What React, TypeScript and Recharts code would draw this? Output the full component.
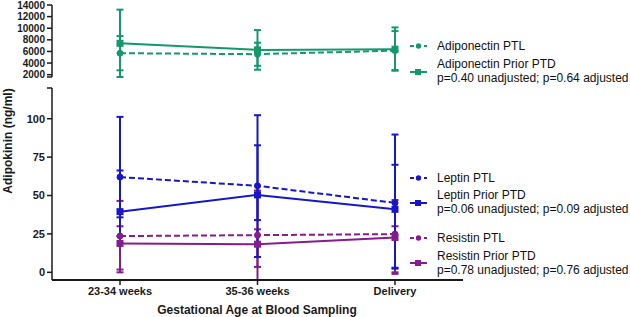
import React from 'react';
import { LineChart, Line, XAxis, YAxis, ErrorBar } from 'recharts';

const categories = ['23-34 weeks', '35-36 weeks', 'Delivery'];

const adipoPtl = [5700, 5530, 6150];
const adipoPtlLow = [2750, 3530, 2800];
const adipoPtlHigh = [8650, 7510, 9510];
const adipoPrior = [7400, 6270, 6390];
const adipoPriorLow = [1600, 2850, 2680];
const adipoPriorHigh = [13200, 9680, 10140];

const leptinPtl = [62.0, 56.3, 45.2];
const leptinPtlLow = [35.8, 34.0, 3.0];
const leptinPtlHigh = [66.3, 82.7, 70.0];
const leptinPrior = [39.5, 50.4, 41.0];
const leptinPriorLow = [23.5, 10.0, 2.4];
const leptinPriorHigh = [101.2, 102.3, 89.7];

const resistinPtl = [23.6, 24.2, 24.9];
const resistinPtlLow = [1.8, 3.5, 0];
const resistinPtlHigh = [46.5, 53.2, 47.1];
const resistinPrior = [18.8, 18.3, 22.7];
const resistinPriorLow = [0, -5, -1];
const resistinPriorHigh = [30, 28, 30];

const adipoTicks = [1600, 2000, 4000, 6000, 8000, 10000, 12000, 14000];
const lowerTicks = [0, 25, 50, 75, 100, 120];

const GREEN = '#13996B';
const BLUE = '#1717C9';
const PURPLE = '#861C8E';
const AXIS = '#1a1a1a';
const FONT = '"Liberation Sans", Arial, sans-serif';

const err = (m: number[], lo: number[], hi: number[], i: number) => [m[i] - lo[i], hi[i] - m[i]];

const adipoData = categories.map((c, i) => ({
  cat: c,
  ptl: adipoPtl[i],
  ptlErr: err(adipoPtl, adipoPtlLow, adipoPtlHigh, i),
  prior: adipoPrior[i],
  priorErr: err(adipoPrior, adipoPriorLow, adipoPriorHigh, i),
}));

const lowerData = categories.map((c, i) => ({
  cat: c,
  lepPtl: leptinPtl[i],
  lepPtlErr: err(leptinPtl, leptinPtlLow, leptinPtlHigh, i),
  lepPrior: leptinPrior[i],
  lepPriorErr: err(leptinPrior, leptinPriorLow, leptinPriorHigh, i),
  resPtl: resistinPtl[i],
  resPtlErr: err(resistinPtl, resistinPtlLow, resistinPtlHigh, i),
  resPrior: resistinPrior[i],
  resPriorErr: err(resistinPrior, resistinPriorLow, resistinPriorHigh, i),
}));

const squareDot = (color: string) => (props: any) => {
  const { cx, cy, index } = props;
  if (cx == null || cy == null) return <g key={`e-${index}`} />;
  return <rect key={`sq-${index}`} x={cx - 3.5} y={cy - 3.5} width={7} height={7} fill={color} />;
};

const circleDot = (color: string) => ({ r: 3, fill: color, stroke: color, strokeWidth: 1, strokeDasharray: '' });

const tickStyleTop = { fontSize: 10, fontWeight: 700, fill: AXIS, fontFamily: FONT };
const tickStyle = { fontSize: 11, fontWeight: 700, fill: AXIS, fontFamily: FONT };

const hideFmt = (hidden: number) => (v: number) => (v === hidden ? '' : String(v));

function LegendEntry({ y, color, dashed, square, lines, textY }: any) {
  return (
    <g>
      <line x1={410} x2={427} y1={y} y2={y} stroke={color} strokeWidth={2} strokeDasharray={dashed ? '4 3' : undefined} />
      {square ? (
        <rect x={415} y={y - 3} width={6} height={6} fill={color} />
      ) : (
        <circle cx={418.5} cy={y} r={2.7} fill={color} />
      )}
      {lines.map((t: string, k: number) => (
        <text key={k} x={437} y={textY[k] + 4.3} fontSize={12} fontFamily={FONT} fill="#111">
          {t}
        </text>
      ))}
    </g>
  );
}

export default function App() {
  return (
    <div style={{ position: 'absolute', left: 0, top: 0, width: 630, height: 317, background: '#fff', fontFamily: FONT }}>
      <div style={{ position: 'absolute', left: 0, top: 0 }}>
        <LineChart width={630} height={82} data={adipoData} margin={{ top: 5, right: 167, bottom: 5, left: 0 }}>
          <XAxis dataKey="cat" hide padding={{ left: 68, right: 68 }} />
          <YAxis
            width={52}
            domain={[1600, 14000]}
            ticks={adipoTicks}
            allowDataOverflow
            tick={tickStyleTop}
            tickFormatter={hideFmt(1600)}
            tickSize={5}
            axisLine={{ stroke: AXIS, strokeWidth: 1.5 }}
            tickLine={{ stroke: AXIS, strokeWidth: 1.5 }}
            interval={0}
          />
          <Line
            dataKey="ptl"
            stroke={GREEN}
            strokeWidth={2}
            strokeDasharray="6 3"
            dot={circleDot(GREEN)}
            isAnimationActive={false}
          >
            <ErrorBar dataKey="ptlErr" width={3.5} stroke={GREEN} strokeWidth={2} direction="y" />
          </Line>
          <Line
            dataKey="prior"
            stroke={GREEN}
            strokeWidth={2}
            dot={squareDot(GREEN)}
            isAnimationActive={false}
          >
            <ErrorBar dataKey="priorErr" width={3.5} stroke={GREEN} strokeWidth={2} direction="y" />
          </Line>
        </LineChart>
      </div>
      <div style={{ position: 'absolute', left: 0, top: 80 }}>
        <LineChart width={630} height={237} data={lowerData} margin={{ top: 8, right: 167, bottom: 7, left: 0 }}>
          <XAxis
            dataKey="cat"
            padding={{ left: 68, right: 68 }}
            height={30}
            tick={tickStyle}
            tickSize={5}
            axisLine={{ stroke: AXIS, strokeWidth: 2 }}
            tickLine={{ stroke: AXIS, strokeWidth: 1.5 }}
            interval={0}
          />
          <YAxis
            width={52}
            domain={[-5, 120]}
            ticks={lowerTicks}
            allowDataOverflow
            tick={tickStyle}
            tickFormatter={hideFmt(120)}
            tickSize={5}
            axisLine={{ stroke: AXIS, strokeWidth: 1.5 }}
            tickLine={{ stroke: AXIS, strokeWidth: 1.5 }}
            interval={0}
          />
          <Line dataKey="resPrior" stroke={PURPLE} strokeWidth={2} dot={squareDot(PURPLE)} isAnimationActive={false}>
            <ErrorBar dataKey="resPriorErr" width={3.5} stroke={PURPLE} strokeWidth={2} direction="y" />
          </Line>
          <Line
            dataKey="resPtl"
            stroke={PURPLE}
            strokeWidth={2}
            strokeDasharray="6 3"
            dot={circleDot(PURPLE)}
            isAnimationActive={false}
          >
            <ErrorBar dataKey="resPtlErr" width={3.5} stroke={PURPLE} strokeWidth={2} direction="y" />
          </Line>
          <Line dataKey="lepPrior" stroke={BLUE} strokeWidth={2} dot={squareDot(BLUE)} isAnimationActive={false}>
            <ErrorBar dataKey="lepPriorErr" width={3.5} stroke={BLUE} strokeWidth={2} direction="y" />
          </Line>
          <Line
            dataKey="lepPtl"
            stroke={BLUE}
            strokeWidth={2}
            strokeDasharray="6 3"
            dot={circleDot(BLUE)}
            isAnimationActive={false}
          >
            <ErrorBar dataKey="lepPtlErr" width={3.5} stroke={BLUE} strokeWidth={2} direction="y" />
          </Line>
        </LineChart>
      </div>
      <svg width={630} height={317} style={{ position: 'absolute', left: 0, top: 0, pointerEvents: 'none' }}>
        <text
          x={0}
          y={0}
          transform="translate(12,141) rotate(-90)"
          textAnchor="middle"
          fontSize={12}
          fontWeight={700}
          fontFamily={FONT}
          fill={AXIS}
        >
          Adipokinin (ng/ml)
        </text>
        <text x={257} y={314} textAnchor="middle" fontSize={12} fontWeight={700} fontFamily={FONT} fill={AXIS}>
          Gestational Age at Blood Sampling
        </text>
        <LegendEntry y={46} color={GREEN} dashed lines={['Adiponectin PTL']} textY={[46]} />
        <LegendEntry
          y={72}
          color={GREEN}
          square
          lines={['Adiponectin Prior PTD', 'p=0.40 unadjusted; p=0.64 adjusted']}
          textY={[64, 78]}
        />
        <LegendEntry y={178} color={BLUE} dashed lines={['Leptin PTL']} textY={[178]} />
        <LegendEntry
          y={203}
          color={BLUE}
          square
          lines={['Leptin Prior PTD', 'p=0.06 unadjusted; p=0.09 adjusted']}
          textY={[195, 209]}
        />
        <LegendEntry y={238} color={PURPLE} dashed lines={['Resistin PTL']} textY={[238]} />
        <LegendEntry
          y={263}
          color={PURPLE}
          square
          lines={['Resistin Prior PTD', 'p=0.78 unadjusted; p=0.76 adjusted']}
          textY={[256, 270]}
        />
      </svg>
    </div>
  );
}
